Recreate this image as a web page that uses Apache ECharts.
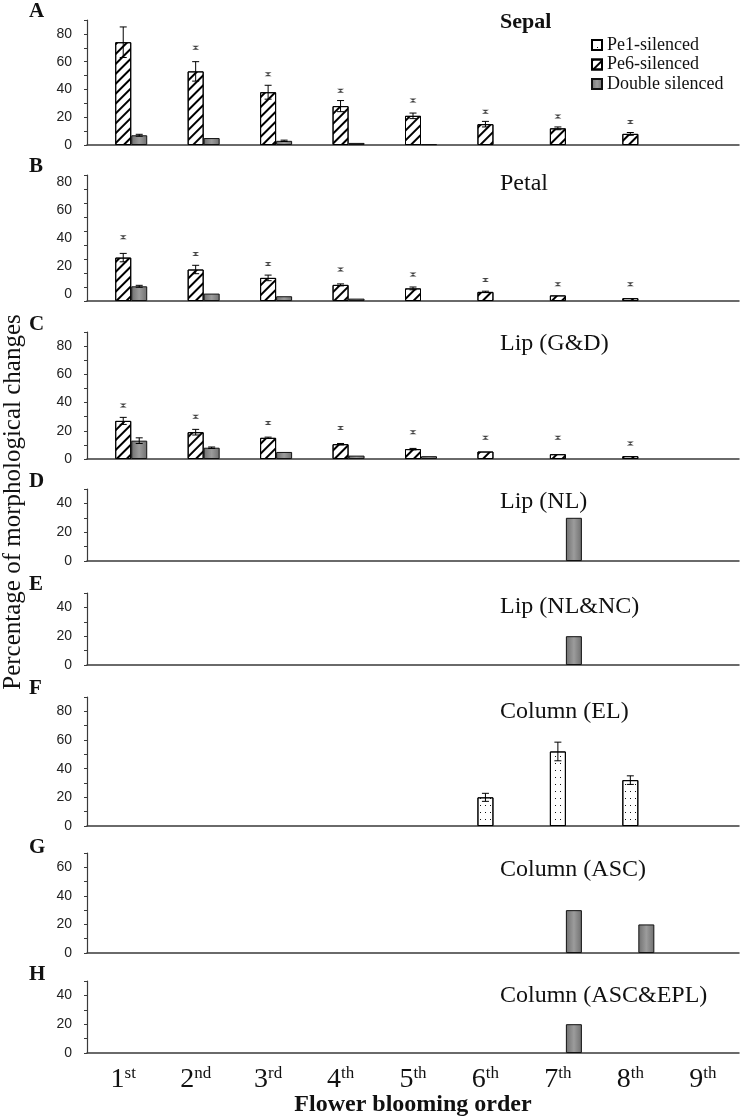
<!DOCTYPE html>
<html><head><meta charset="utf-8">
<script src="https://cdn.jsdelivr.net/npm/echarts@6/dist/echarts.min.js"></script>
<style>html,body{margin:0;padding:0;background:#fff}#c{width:742px;height:1120px}</style>
</head><body><div id="c"></div>
<script>
// ---------------- DATA ----------------
const categories = ['1st','2nd','3rd','4th','5th','6th','7th','8th','9th'];
const seriesNames = ['Pe1-silenced','Pe6-silenced','Double silenced'];
const panelLetters = ['A','B','C','D','E','F','G','H'];
const panelNames = ['Sepal','Petal','Lip (G&D)','Lip (NL)','Lip (NL&NC)','Column (EL)','Column (ASC)','Column (ASC&EPL)'];
const yMax = [90,90,90,50,50,90,70,50];

// A Sepal
const sepalPe6      = [74,53,38,28,21,15,12,8,null];
const sepalPe6Err   = [11,7,5,4,2,2,1,1,0];
const sepalDbl      = [7,5,3,1.5,0.6,null,null,null,null];
const sepalDblErr   = [0.7,0,0.5,0,0,0,0,0,0];
const sepalSig      = [92,70,51,39,32,24,20.5,16.5,null];
// B Petal
const petalPe6      = [31,22.5,16.5,11.5,9,6.5,4,2,null];
const petalPe6Err   = [3,3,2,0.7,1,0.5,0,0,0];
const petalDbl      = [10.5,5.3,3.4,1.7,null,null,null,null,null];
const petalDblErr   = [0.7,0,0,0,0,0,0,0,0];
const petalSig      = [45.5,33.5,26.5,22.5,19,15,12,12,null];
// C Lip (G&D)
const lipGDPe6      = [27,19,15,10.5,7,5.3,3.4,2,null];
const lipGDPe6Err   = [2.5,2,0.5,0.5,0.5,0,0,0,0];
const lipGDDbl      = [13,8,5,2.4,2,null,null,null,null];
const lipGDDblErr   = [2,0.5,0,0,0,0,0,0,0];
const lipGDSig      = [38,30,25.5,22,19,15,15,11,null];
// D Lip (NL)
const lipNLDbl      = [null,null,null,null,null,null,30,null,null];
// E Lip (NL&NC)
const lipNLNCDbl    = [null,null,null,null,null,null,20,null,null];
// F Column (EL)
const colELPe1      = [null,null,null,null,null,20,52,32,null];
const colELPe1Err   = [0,0,0,0,0,2.8,6.5,3,0];
// G Column (ASC)
const colASCDbl     = [null,null,null,null,null,null,30,20,null];
// H Column (ASC&EPL)
const colASCEPLDbl  = [null,null,null,null,null,null,20,null,null];

// ---------------- LAYOUT / STYLE ----------------
const gridTops    = [20,175,332,489,593,697,853,981];
const gridBottoms = [145,301,459,561,665,826,953,1053];
const titleY      = [22,184,344,502,607,712,870,996];
const letterY     = [12,167,325,482,585,689,848,975];
const SERIF = '"Liberation Serif","Times New Roman",serif';
const NUMF  = '"Liberation Sans Narrow","Liberation Sans",Arial,sans-serif';
const BW = 16;
const empty = categories.map(() => null);

const grayFill = new echarts.graphic.LinearGradient(0,0,1,0,[
  {offset:0, color:'#6f6f6f'},{offset:0.5, color:'#9c9c9c'},{offset:1, color:'#6f6f6f'}]);

const styles = {
  'Pe1-silenced': {color:'#fff', borderColor:'#000', borderWidth:1,
     decal:{symbol:'rect', symbolSize:1, color:'#111', dashArrayX:[1,4], dashArrayY:[1,6], rotation:0}},
  'Pe6-silenced': {color:'#fff', borderColor:'#000', borderWidth:1,
     decal:{symbol:'rect', symbolSize:1, color:'#000', dashArrayX:[1,0], dashArrayY:[2,5], rotation:-Math.PI/4}},
  'Double silenced': {color:grayFill, borderColor:'#111', borderWidth:1}
};

const panels = [
  {pe6:sepalPe6, pe6Err:sepalPe6Err, dbl:sepalDbl, dblErr:sepalDblErr, sig:sepalSig},
  {pe6:petalPe6, pe6Err:petalPe6Err, dbl:petalDbl, dblErr:petalDblErr, sig:petalSig},
  {pe6:lipGDPe6, pe6Err:lipGDPe6Err, dbl:lipGDDbl, dblErr:lipGDDblErr, sig:lipGDSig},
  {dbl:lipNLDbl},
  {dbl:lipNLNCDbl},
  {single:colELPe1, singleErr:colELPe1Err},
  {dbl:colASCDbl},
  {dbl:colASCEPLDbl}
];

function errRender(offset){
  return function(params, api){
    const x = api.value(0), v = api.value(1), e = api.value(2);
    const hi = api.coord([x, v + e]);
    const lo = api.coord([x, Math.max(0, v - e)]);
    const cx = hi[0] + offset, hw = 3.5;
    const st = {stroke:'#000', lineWidth:1};
    return {type:'group', children:[
      {type:'line', shape:{x1:cx,y1:hi[1],x2:cx,y2:lo[1]}, style:st},
      {type:'line', shape:{x1:cx-hw,y1:hi[1],x2:cx+hw,y2:hi[1]}, style:st},
      {type:'line', shape:{x1:cx-hw,y1:lo[1],x2:cx+hw,y2:lo[1]}, style:st}
    ]};
  };
}
function errData(vals, errs){
  const out = [];
  vals.forEach((v,i) => { if (v != null && errs[i] > 0) out.push([i, v, errs[i]]); });
  return out;
}

const grids = [], xAxes = [], yAxes = [], series = [], graphics = [];
panels.forEach((p, i) => {
  grids.push({left:87, right:3, top:gridTops[i], height:gridBottoms[i]-gridTops[i]});
  xAxes.push({
    gridIndex:i, type:'category', data:categories,
    axisLine:{lineStyle:{color:'#3a3a3a', width:1.5}},
    axisTick:{show:false},
    axisLabel:{show:i===7, margin:12, color:'#111',
      formatter: v => v.replace(/^(\d+)(\D+)$/, '{n|$1}{s|$2}'),
      rich:{n:{fontFamily:SERIF, fontSize:28, lineHeight:30, color:'#111'},
            s:{fontFamily:SERIF, fontSize:17, lineHeight:17, verticalAlign:'top', color:'#111'}}}
  });
  yAxes.push({
    gridIndex:i, type:'value', min:0, max:yMax[i], interval:10,
    axisLine:{show:true, lineStyle:{color:'#3a3a3a', width:1.2}},
    axisTick:{show:true, length:3, lineStyle:{color:'#3a3a3a'}},
    splitLine:{show:false},
    axisLabel:{formatter: v => (v % 20 === 0 ? String(v) : ''), fontFamily:NUMF, fontSize:14,
               color:'#222', margin:15, verticalAlign: i === 1 ? 'bottom' : 'middle'}
  });
  if (p.single) {
    series.push({type:'bar', name:'Pe1-silenced', xAxisIndex:i, yAxisIndex:i, data:p.single,
      barWidth:BW, itemStyle:styles['Pe1-silenced']});
    series.push({type:'custom', xAxisIndex:i, yAxisIndex:i, renderItem:errRender(0),
      data:errData(p.single, p.singleErr), encode:{x:0,y:1}, z:5, silent:true});
  } else {
    const pe1 = empty, pe6 = p.pe6 || empty, dbl = p.dbl || empty;
    [[seriesNames[0], pe1],[seriesNames[1], pe6],[seriesNames[2], dbl]].forEach(([nm, d]) => {
      series.push({type:'bar', name:nm, xAxisIndex:i, yAxisIndex:i, data:d,
        barWidth:BW, barGap:'0%', itemStyle:styles[nm]});
    });
    if (p.pe6Err) series.push({type:'custom', xAxisIndex:i, yAxisIndex:i, renderItem:errRender(0),
      data:errData(pe6, p.pe6Err), encode:{x:0,y:1}, z:5, silent:true});
    if (p.dblErr) series.push({type:'custom', xAxisIndex:i, yAxisIndex:i, renderItem:errRender(BW),
      data:errData(dbl, p.dblErr), encode:{x:0,y:1}, z:5, silent:true});
    if (p.sig) series.push({type:'scatter', xAxisIndex:i, yAxisIndex:i, data:p.sig,
      symbol:'path://M0,0L10,0L5,5L10,10L0,10L5,5Z', symbolSize:[7,4],
      itemStyle:{color:'#111'}, z:6, silent:true});
  }
  graphics.push({type:'text', x:500, y:titleY[i],
    style:{text:panelNames[i], fontFamily:SERIF, fontSize:i===0?22:24, fontWeight:i===0?'bold':'normal',
      fill:'#111', textAlign:'left', textVerticalAlign:'middle'}});
  graphics.push({type:'text', x:29, y:letterY[i],
    style:{text:panelLetters[i], fontFamily:SERIF, fontSize:21, fontWeight:'bold',
      fill:'#111', textAlign:'left', textVerticalAlign:'middle'}});
});

graphics.push({type:'text', x:13, y:502, rotation:Math.PI/2,
  style:{text:'Percentage of morphological changes', fontFamily:SERIF, fontSize:25,
    fill:'#111', textAlign:'center', textVerticalAlign:'middle'}});
graphics.push({type:'text', x:413, y:1105,
  style:{text:'Flower blooming order', fontFamily:SERIF, fontSize:24, fontWeight:'bold',
    fill:'#111', textAlign:'center', textVerticalAlign:'middle'}});

const option = {
  backgroundColor:'#fff',
  animation:false,
  grid:grids, xAxis:xAxes, yAxis:yAxes, series:series,
  legend:{data:seriesNames, orient:'vertical', left:586, top:31, itemWidth:10, itemHeight:10,
    itemGap:1.5, selectedMode:false, icon:'rect',
    textStyle:{fontFamily:SERIF, fontSize:18, color:'#111'}},
  graphic:graphics
};
const chart = echarts.init(document.getElementById('c'), null, {renderer:'canvas'});
chart.setOption(option);
</script>
</body></html>
